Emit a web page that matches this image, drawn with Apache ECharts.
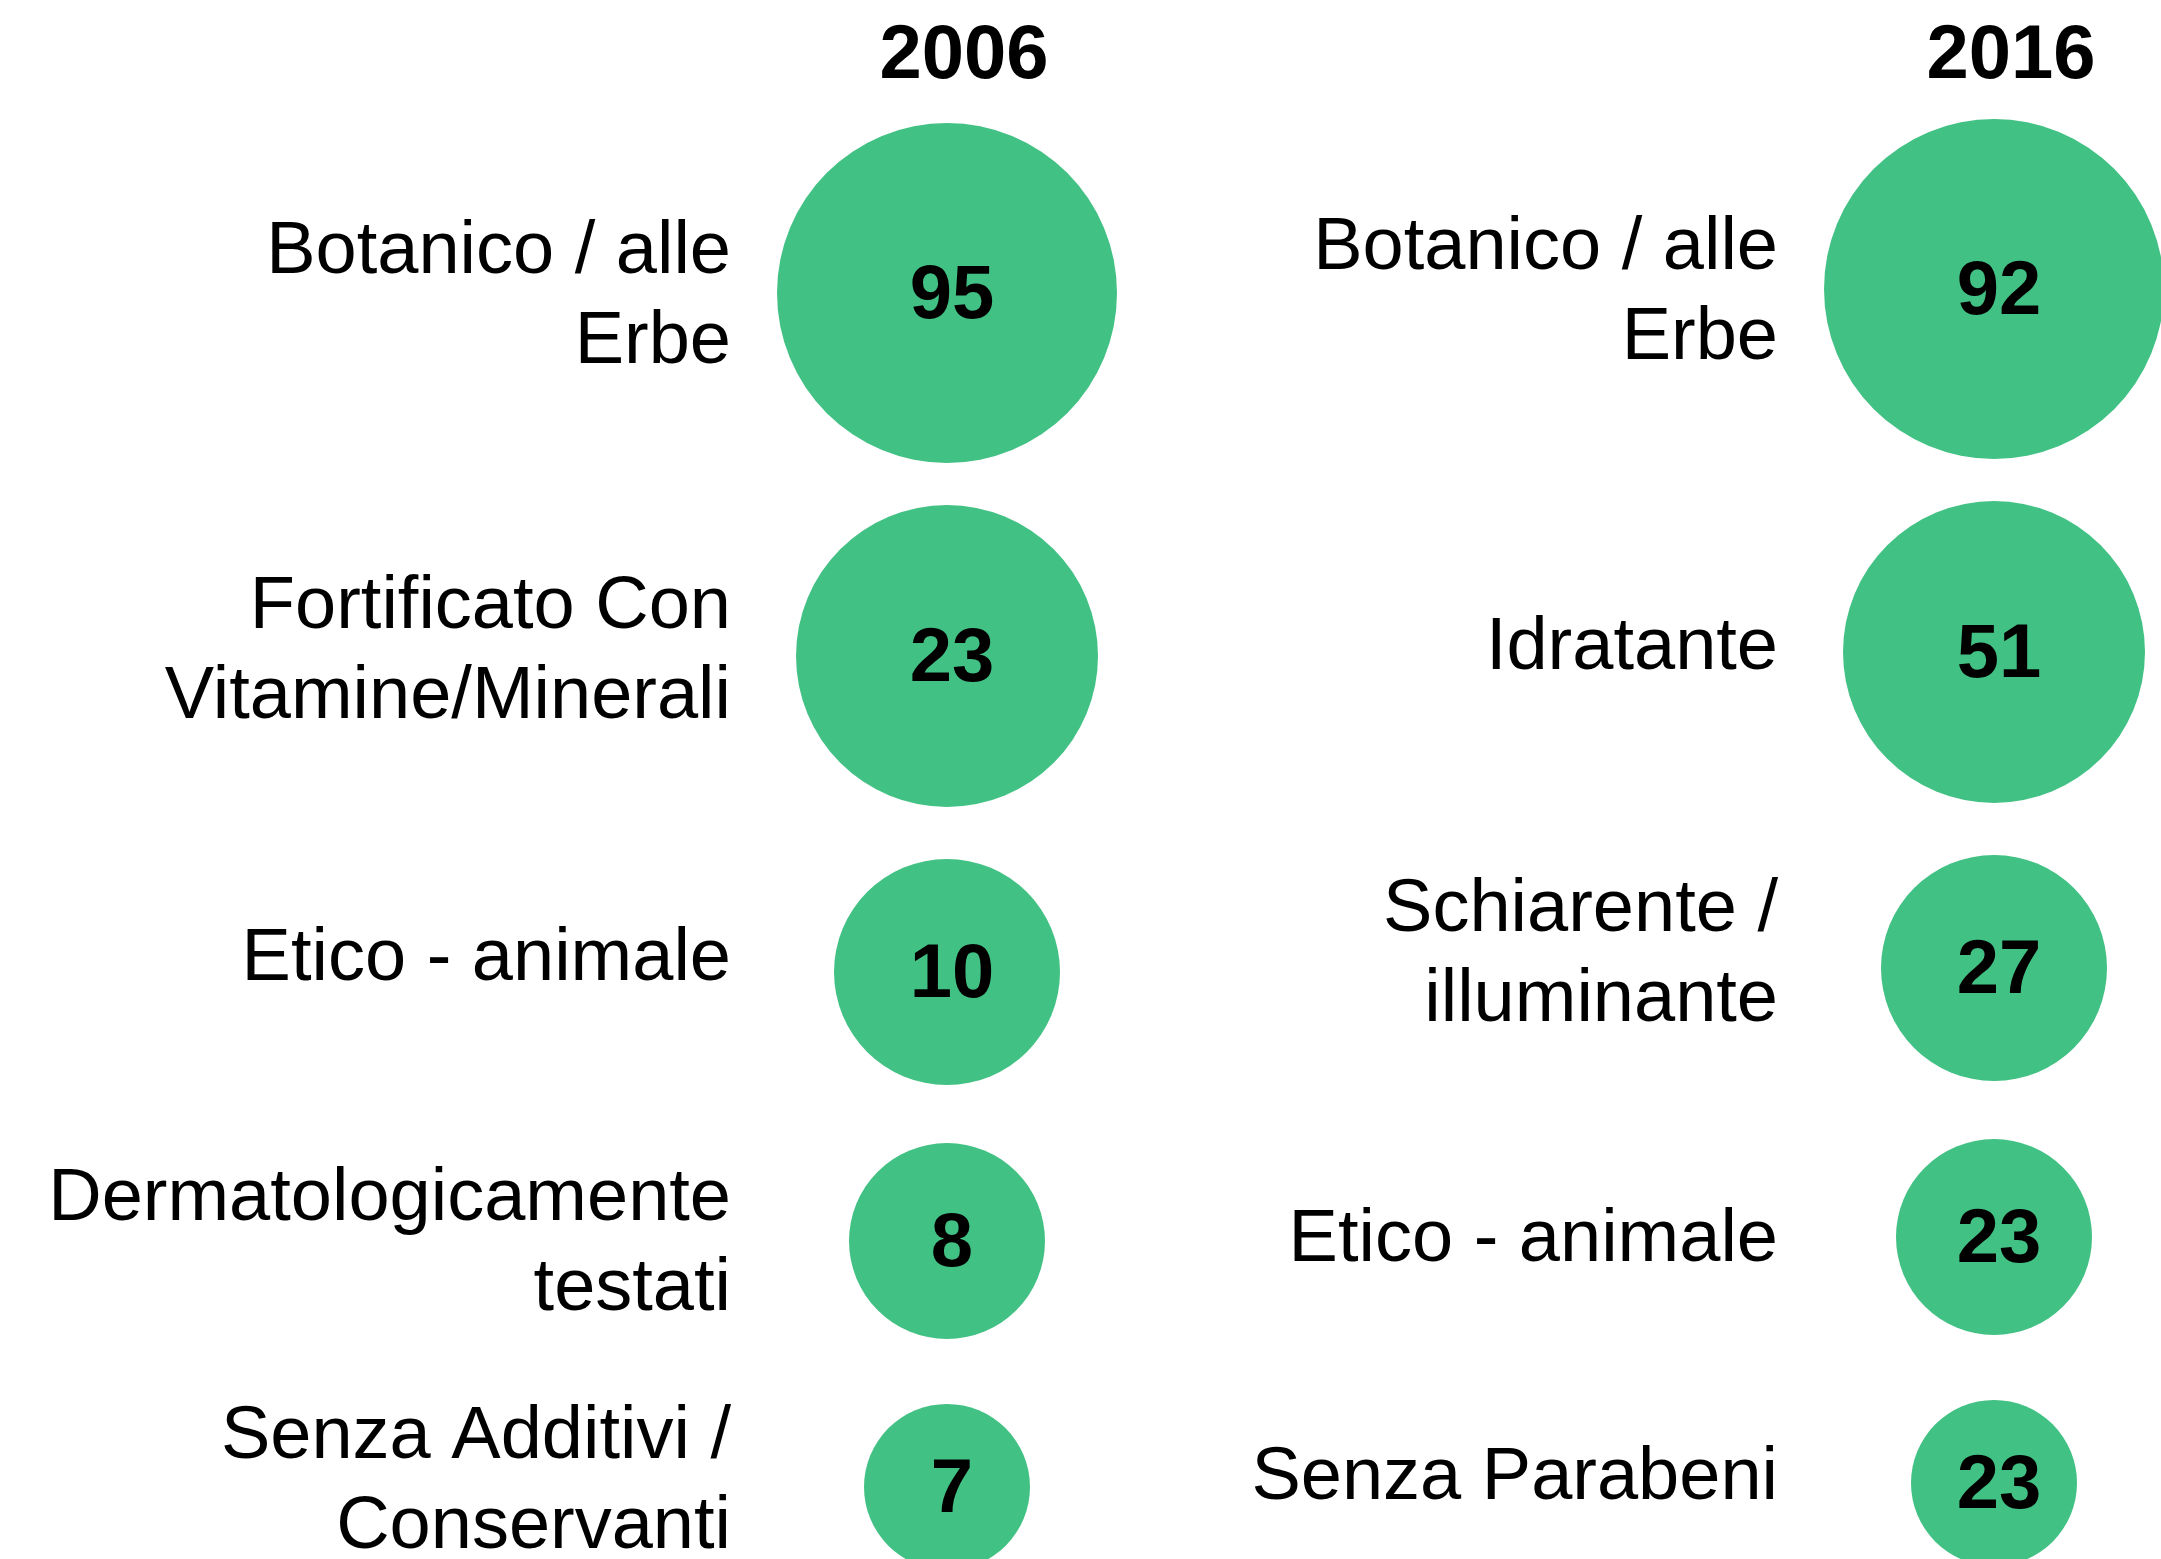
<!DOCTYPE html>
<html>
<head>
<meta charset="utf-8">
<title>2006 vs 2016</title>
<script src="https://cdn.jsdelivr.net/npm/echarts@6/dist/echarts.min.js"></script>
<style>
  html, body { margin: 0; padding: 0; background: #fff; }
  #chart { width: 2161px; height: 1559px; }
</style>
</head>
<body>
<div id="chart"></div>
<script>
// data
const years = ["2006", "2016"];
const labels2006 = ["Botanico / alle\nErbe", "Fortificato Con\nVitamine/Minerali", "Etico - animale", "Dermatologicamente\ntestati", "Senza Additivi /\nConservanti"];
const values2006 = [95, 23, 10, 8, 7];
const labels2016 = ["Botanico / alle\nErbe", "Idratante", "Schiarente /\nilluminante", "Etico - animale", "Senza Parabeni"];
const values2016 = [92, 51, 27, 23, 23];

// layout / style
const FONT = "'Liberation Sans', Arial, sans-serif";
const GREEN = "#42C184";
const COL_X = [947, 1994];            // circle column centres
const COL_DY = [1, -3];               // right column sits a touch higher
const ROW_Y = [292, 655, 971, 1240, 1486];
const RANK_DIAMETER = [340, 302, 226, 196, 166];  // bubble size by rank
const LABEL_LIFT = [-5, 3, 12, -4, 4];

const columns = [
  {year: years[0], labels: labels2006, values: values2006},
  {year: years[1], labels: labels2016, values: values2016}
];

// category text; an invisible spacer line above/below nudges the block
function catLabel(lift) {
  return {
    margin: 66,
    formatter: v => {
      let lines = v.split("\n").map(s => "{t|" + s + "}");
      if (lift > 0) lines.push("{s| }");
      if (lift < 0) lines.unshift("{s| }");
      return lines.join("\n");
    },
    rich: {
      t: {fontSize: 74, lineHeight: 90, color: "#000", fontFamily: FONT},
      s: {fontSize: 1, lineHeight: Math.abs(lift) * 2 || 1}
    }
  };
}

let grid = [], xAxis = [], yAxis = [], series = [];

columns.forEach((col, c) => {
  col.values.forEach((v, r) => {
    const i = grid.length;
    const top = ROW_Y[r] + COL_DY[c] - 40;
    grid.push({
      left: COL_X[c] - 150,
      top: top,
      width: 300,
      height: 80,
      containLabel: false,
      outerBoundsMode: "none"
    });
    xAxis.push({
      type: "category",
      gridIndex: i,
      data: [col.year],
      position: "top",
      show: r === 0,
      axisLine: {show: false},
      axisTick: {show: false},
      axisLabel: {
        margin: top - 57,
        verticalAlign: "middle",
        formatter: "{y|{value}}",
        rich: {
          y: {fontSize: 76, fontWeight: "bold", color: "#000", fontFamily: FONT, padding: [0, 0, 0, 34]}
        }
      }
    });
    yAxis.push({
      type: "category",
      gridIndex: i,
      data: [col.labels[r]],
      axisLine: {show: false},
      axisTick: {show: false},
      splitLine: {show: false},
      axisLabel: catLabel(LABEL_LIFT[r])
    });
    series.push({
      type: "scatter",
      name: col.year,
      xAxisIndex: i,
      yAxisIndex: i,
      clip: false,
      symbol: "circle",
      symbolSize: RANK_DIAMETER[r],
      itemStyle: {color: GREEN, opacity: 1},
      emphasis: {disabled: true},
      label: {
        show: true,
        position: "inside",
        offset: [5, 4],
        formatter: p => p.value[2],
        fontSize: 76,
        fontWeight: "bold",
        color: "#000",
        fontFamily: FONT
      },
      data: [[0, 0, v]]
    });
  });
});

const chart = echarts.init(document.getElementById("chart"));
chart.setOption({
  animation: false,
  backgroundColor: "#fff",
  grid: grid,
  xAxis: xAxis,
  yAxis: yAxis,
  series: series
});
</script>
</body>
</html>
